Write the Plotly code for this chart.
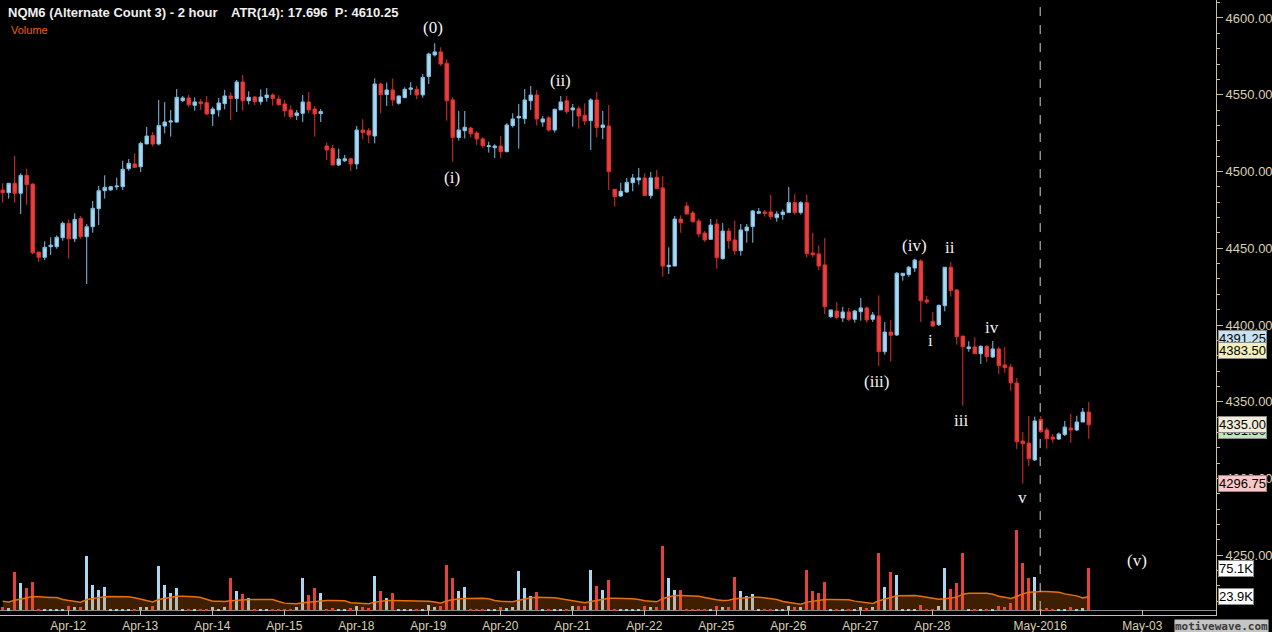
import plotly.graph_objects as go

# 2-hour bars (index = bar number, left to right)
opens = [4487.9, 4486.2, 4492.3, 4485.8, 4497.5, 4491.8, 4447.5, 4444.1, 4451.0, 4451.0,
         4456.9, 4466.2, 4456.2, 4469.5, 4457.5, 4464.0, 4475.8, 4487.5, 4488.0, 4490.0,
         4490.1, 4501.8, 4504.9, 4503.1, 4517.9, 4523.5, 4517.9, 4529.6, 4532.2, 4532.2,
         4546.1, 4547.9, 4543.1, 4545.3, 4544.8, 4537.5, 4540.1, 4544.2, 4549.2, 4547.5,
         4558.3, 4546.1, 4548.5, 4545.5, 4548.1, 4549.8, 4547.2, 4544.0, 4540.1, 4536.4,
         4537.9, 4545.3, 4540.7, 4537.7, 4516.6, 4514.9, 4504.2, 4507.0, 4508.3, 4504.9,
         4527.0, 4526.6, 4523.1, 4557.0, 4550.1, 4553.1, 4544.4, 4548.1, 4553.5, 4553.5,
         4549.9, 4561.8, 4575.9, 4577.9, 4570.5, 4546.6, 4522.1, 4526.6, 4528.3, 4525.1,
         4521.2, 4516.3, 4515.5, 4516.6, 4512.9, 4529.9, 4534.9, 4534.4, 4546.1, 4549.8,
         4532.2, 4534.9, 4527.0, 4540.1, 4546.1, 4540.1, 4540.9, 4536.6, 4533.1, 4546.6,
         4528.6, 4529.6, 4488.4, 4484.0, 4486.6, 4492.7, 4494.5, 4495.8, 4484.3, 4496.2,
         4489.3, 4438.0, 4438.4, 4469.0, 4477.5, 4473.0, 4467.7, 4459.9, 4455.8, 4465.8,
         4443.2, 4461.2, 4455.4, 4448.4, 4461.4, 4464.1, 4472.8, 4473.6, 4473.6, 4469.9,
         4471.9, 4473.2, 4479.7, 4473.2, 4479.7, 4446.9, 4446.3, 4439.1, 4405.4, 4409.1,
         4404.6, 4408.5, 4403.7, 4408.7, 4411.1, 4403.7, 4405.9, 4382.6, 4395.4, 4393.5,
         4432.2, 4432.8, 4437.1, 4441.7, 4416.3, 4402.4, 4400.2, 4412.6, 4437.6, 4422.8,
         4392.8, 4384.6, 4385.7, 4381.3, 4386.1, 4379.2, 4384.4, 4374.0, 4372.6, 4362.2,
         4324.4, 4323.1, 4312.1, 4338.5, 4331.6, 4327.0, 4325.7, 4328.6, 4332.9, 4331.6,
         4336.8, 4343.3]
highs = [4492.3, 4492.3, 4510.1, 4498.8, 4501.8, 4492.3, 4447.5, 4454.5, 4457.1, 4458.4,
         4467.3, 4468.8, 4472.7, 4471.0, 4465.8, 4480.8, 4490.5, 4497.5, 4490.5, 4496.0,
         4507.0, 4508.1, 4511.8, 4519.4, 4529.0, 4525.7, 4546.6, 4545.3, 4540.0, 4553.7,
         4549.2, 4549.8, 4548.3, 4547.2, 4549.2, 4542.2, 4547.9, 4553.1, 4551.4, 4559.6,
         4562.9, 4552.2, 4549.2, 4553.5, 4554.4, 4550.9, 4549.6, 4546.6, 4543.1, 4540.1,
         4549.8, 4551.8, 4542.7, 4540.7, 4518.8, 4517.3, 4514.9, 4510.8, 4509.0, 4529.6,
         4534.0, 4528.3, 4560.7, 4557.9, 4557.9, 4560.5, 4549.2, 4554.8, 4558.1, 4555.7,
         4563.5, 4577.4, 4583.5, 4580.9, 4573.1, 4548.3, 4539.4, 4539.4, 4529.2, 4526.2,
         4522.3, 4519.4, 4517.7, 4523.1, 4531.4, 4537.9, 4544.0, 4553.7, 4555.7, 4553.1,
         4536.1, 4536.1, 4540.9, 4549.2, 4549.2, 4544.0, 4542.7, 4544.4, 4547.7, 4551.8,
         4539.4, 4543.3, 4488.4, 4492.7, 4495.8, 4498.4, 4502.3, 4498.8, 4499.7, 4501.0,
         4497.1, 4450.6, 4471.0, 4471.4, 4480.1, 4474.5, 4469.3, 4461.2, 4469.0, 4469.0,
         4466.4, 4463.2, 4468.0, 4465.8, 4465.8, 4474.9, 4476.2, 4474.9, 4484.7, 4474.1,
         4475.3, 4489.9, 4485.3, 4480.6, 4484.9, 4460.1, 4451.9, 4456.7, 4409.8, 4415.0,
         4411.9, 4411.1, 4409.8, 4417.6, 4412.0, 4408.5, 4419.3, 4401.9, 4403.3, 4434.5,
         4433.7, 4438.4, 4443.2, 4442.8, 4418.9, 4408.5, 4413.3, 4437.6, 4441.0, 4423.2,
         4392.8, 4389.4, 4392.0, 4386.8, 4386.8, 4389.6, 4385.9, 4385.7, 4374.6, 4365.5,
         4330.3, 4340.7, 4340.3, 4340.7, 4333.1, 4329.0, 4329.9, 4337.5, 4342.2, 4340.9,
         4345.9, 4349.8]
lows = [4479.7, 4482.3, 4479.7, 4472.3, 4478.4, 4446.2, 4441.2, 4442.3, 4445.6, 4449.7,
        4454.9, 4443.2, 4454.0, 4456.2, 4426.7, 4460.1, 4465.1, 4482.3, 4487.5, 4488.0,
        4487.9, 4500.5, 4502.3, 4499.7, 4517.9, 4516.2, 4517.0, 4524.8, 4522.7, 4531.8,
        4545.3, 4542.2, 4539.6, 4540.1, 4536.8, 4529.6, 4535.7, 4540.5, 4533.5, 4538.8,
        4539.6, 4543.7, 4543.3, 4543.5, 4545.5, 4542.9, 4542.9, 4535.7, 4534.4, 4533.5,
        4532.2, 4537.9, 4522.7, 4532.2, 4507.5, 4504.2, 4503.6, 4506.2, 4500.3, 4501.4,
        4521.0, 4518.3, 4518.3, 4537.9, 4542.7, 4542.7, 4543.5, 4547.7, 4549.9, 4547.2,
        4548.1, 4557.0, 4574.8, 4568.7, 4533.1, 4506.4, 4520.1, 4521.4, 4522.3, 4517.3,
        4515.5, 4512.3, 4508.8, 4508.8, 4512.5, 4528.6, 4514.9, 4530.9, 4540.1, 4529.9,
        4529.2, 4525.9, 4525.3, 4540.1, 4537.5, 4529.2, 4527.9, 4530.3, 4514.0, 4522.3,
        4521.0, 4487.9, 4477.1, 4483.6, 4486.2, 4487.1, 4491.4, 4484.3, 4482.3, 4488.4,
        4431.5, 4433.2, 4438.4, 4460.1, 4472.3, 4466.7, 4457.1, 4454.1, 4455.4, 4436.7,
        4442.6, 4449.7, 4445.8, 4445.2, 4453.6, 4453.6, 4472.3, 4470.6, 4468.8, 4467.3,
        4468.6, 4473.2, 4471.9, 4471.9, 4444.1, 4444.1, 4435.8, 4407.2, 4404.6, 4403.7,
        4402.0, 4402.4, 4401.5, 4402.8, 4401.5, 4402.0, 4373.3, 4380.7, 4376.3, 4392.8,
        4428.9, 4431.5, 4434.5, 4402.0, 4413.7, 4398.9, 4399.3, 4408.9, 4418.5, 4387.2,
        4347.5, 4382.6, 4381.3, 4374.6, 4375.9, 4378.5, 4368.1, 4369.0, 4357.2, 4319.2,
        4296.75, 4308.1, 4311.4, 4329.9, 4319.4, 4323.3, 4325.1, 4327.7, 4323.3, 4330.9,
        4336.8, 4325.9]
closes = [4486.2, 4492.3, 4485.8, 4497.5, 4491.4, 4447.1, 4444.1, 4450.6, 4452.0, 4457.1,
          4466.2, 4456.2, 4468.8, 4457.5, 4464.0, 4476.0, 4487.5, 4489.7, 4490.1, 4490.5,
          4501.4, 4505.3, 4502.7, 4518.3, 4523.1, 4517.9, 4530.0, 4532.2, 4532.9, 4548.3,
          4547.9, 4543.5, 4545.3, 4544.2, 4537.5, 4540.7, 4544.6, 4549.2, 4547.5, 4558.3,
          4546.1, 4548.3, 4545.5, 4548.5, 4549.8, 4547.5, 4543.5, 4539.6, 4535.7, 4538.1,
          4545.3, 4540.1, 4537.5, 4539.0, 4514.0, 4504.2, 4508.1, 4508.3, 4504.9, 4527.0,
          4525.3, 4523.8, 4557.0, 4550.1, 4553.1, 4546.6, 4549.2, 4553.5, 4554.4, 4549.9,
          4561.3, 4576.5, 4577.9, 4570.0, 4546.1, 4522.1, 4527.0, 4528.8, 4524.6, 4521.2,
          4516.8, 4516.7, 4516.6, 4512.9, 4530.3, 4534.2, 4535.9, 4546.6, 4549.8, 4534.2,
          4534.2, 4527.0, 4540.5, 4545.3, 4539.0, 4541.4, 4536.1, 4532.9, 4546.6, 4528.6,
          4530.3, 4499.9, 4483.6, 4487.1, 4492.9, 4495.8, 4495.8, 4484.3, 4495.8, 4488.8,
          4438.4, 4438.9, 4469.0, 4466.7, 4472.3, 4467.3, 4459.3, 4455.4, 4465.1, 4443.9,
          4461.2, 4454.9, 4448.4, 4461.9, 4463.8, 4474.3, 4473.8, 4472.7, 4470.6, 4472.3,
          4473.6, 4479.7, 4473.2, 4479.7, 4446.5, 4445.8, 4438.4, 4411.9, 4409.8, 4405.0,
          4408.5, 4403.7, 4409.1, 4411.1, 4403.3, 4406.5, 4382.6, 4395.4, 4393.3, 4433.7,
          4433.7, 4437.6, 4442.3, 4415.8, 4415.0, 4399.3, 4412.8, 4437.6, 4422.4, 4392.4,
          4385.9, 4385.7, 4381.3, 4386.1, 4379.4, 4384.4, 4373.5, 4372.2, 4362.4, 4324.0,
          4322.7, 4312.9, 4337.5, 4330.5, 4326.0, 4325.7, 4329.0, 4333.5, 4331.6, 4336.8,
          4343.3, 4335.0]

# volume in thousands and its moving average line
volume_k = [4.8, 3.6, 68, 49, 39, 50, 0.8, 1.8, 1.8, 0.8,
            1.8, 7, 5, 5, 97, 45, 36, 41, 0.8, 0.8,
            1.8, 1.8, 1.8, 5, 5, 7, 79, 45, 30, 39,
            0.8, 0.8, 0.8, 0.8, 1.8, 5, 1.8, 5, 57, 34,
            29, 21, 0.8, 0.8, 0.8, 0.8, 0.8, 1.8, 1.8, 5,
            57, 27, 39, 30, 1.8, 3.5, 1.8, 0.8, 3.5, 7,
            5, 3.5, 61, 34, 21, 30, 0.8, 0.8, 1.8, 0.8,
            1.8, 9.5, 5, 7, 82, 57, 34, 41, 0.8, 0.8,
            0.8, 1.2, 1.2, 5, 3.5, 5, 70, 39, 26, 32,
            0.8, 0.8, 1.2, 1.2, 1.2, 7, 7, 7, 72, 43,
            36, 55, 0.8, 1.2, 1.2, 1.2, 1.2, 7, 5, 5.5,
            116, 57, 36, 36, 0.8, 1.2, 0.8, 0.8, 0.8, 7,
            5, 5.5, 59, 34, 26, 29, 0.8, 0.8, 1.2, 0.8,
            0.8, 7, 5, 6, 72, 34, 30, 50, 1.2, 1.2,
            1.2, 0.8, 1.2, 5, 3.5, 6, 102, 41, 68, 64,
            0.8, 0.8, 1.2, 9, 0.8, 1.2, 7, 75, 38, 48,
            102, 0.8, 1.2, 1.2, 0.8, 1.2, 7, 5, 12, 145,
            84, 57, 59, 1.2, 3.5, 0.8, 0.8, 1.2, 5, 1.2,
            3.5, 75.1]
volume_ma_k = [16, 14.7, 17.9, 20.3, 22, 24.4, 23.9, 22.7, 22.7, 22.7,
               19.1, 17.3, 16, 14.3, 19.1, 20.9, 22.7, 23.9, 24.4, 24.4,
               24.4, 23.9, 22, 19.7, 17.9, 14.7, 19.1, 21.5, 23.3, 25,
               25, 25, 23.9, 22.7, 19.1, 16, 16, 15.5, 16.7, 17.9,
               19.1, 19.1, 19.1, 19.1, 19.1, 19.1, 15.5, 12.5, 11.9, 11.3,
               13.1, 14.3, 16, 17.3, 17.3, 17.3, 17.3, 16.7, 13.1, 12.5,
               11.9, 11.3, 14.3, 16, 17.3, 17.3, 17.3, 17.3, 17.3, 17.3,
               17.3, 16, 14.7, 12.5, 16.7, 19, 20.3, 21, 21.5, 21.5,
               21.5, 20.3, 17.3, 16.1, 14.9, 14.9, 17.9, 20.3, 22, 23.3,
               23.3, 23.3, 22, 20.3, 18.5, 16.1, 14.3, 13.1, 15.5, 17.9,
               20.3, 21.5, 21.5, 21.5, 21, 20.3, 19, 16.7, 16.1, 14.9,
               21, 23.9, 26.2, 26.2, 26.2, 26.2, 25, 22.7, 20.3, 18.5,
               17.3, 17.9, 20.3, 21.5, 22.7, 23.3, 23.3, 22, 20.3, 19,
               15.5, 14.3, 12.5, 10.7, 14.3, 16.1, 17.9, 19, 19, 19,
               19, 18.5, 16.1, 14.9, 13.7, 11.9, 16.7, 20.3, 22.7, 25.6,
               26.2, 26.2, 26.2, 25, 23.3, 21.5, 19.7, 20.3, 21.5, 23.3,
               28.6, 30.4, 30.4, 30.4, 30.4, 28.6, 25, 23.3, 21, 24.4,
               29.2, 32.2, 33.4, 33.4, 33.4, 33.4, 32.2, 29.2, 27.4, 25.6,
               22, 23.9]

# date ticks (bar positions) and labels
tick_pos = [10.93, 22.93, 34.93, 46.93, 58.93, 70.93, 82.93, 94.93, 106.93,
            118.93, 130.93, 142.93, 154.93, 172.9, 189.93]
tick_labels = ["Apr-12", "Apr-13", "Apr-14", "Apr-15", "Apr-18", "Apr-19", "Apr-20",
               "Apr-21", "Apr-22", "Apr-25", "Apr-26", "Apr-27", "Apr-28", "May-2016", "May-03"]

# Elliott wave labels: (text, bar position, price)
wave_labels = ["(0)", "(i)", "(ii)", "(iii)", "(iv)", "(v)", "i", "ii", "iii", "iv", "v"]
wave_x = [71.7, 74.9, 92.9, 145.7, 151.9, 189.1, 154.7, 157.9, 159.7, 164.9, 169.9]
wave_y = [4593.5, 4496.4, 4559.0, 4363.5, 4452.1, 4246.9, 4389.6, 4450.2, 4337.5, 4398.7, 4287.9]

# right-hand price / volume markers
marker_prices = [4331.5, 4391.25, 4383.50, 4335.00, 4296.75]
marker_texts = ["4331.50", "4391.25", "4383.50", "4335.00", "4296.75"]
marker_colors = ["#b8e8b8", "#c8e2f4", "#f2f0b8", "#f0ecd8", "#f8c8c8"]
vol_marker_values = [75.1, 23.9]
vol_marker_texts = ["75.1K", "23.9K"]

BLUE = "#a9d9f2"
RED = "#e8403f"
TAN = "#c8c0a0"
TICK_TEXT = "#d8d0b4"

if __name__ == "__main__":
    idx = list(range(len(opens)))
    vol_colors = [BLUE if c >= o else RED for o, c in zip(opens, closes)]

    fig = go.Figure()
    fig.add_trace(
        go.Candlestick(
            x=idx, open=opens, high=highs, low=lows, close=closes,
            increasing=dict(fillcolor=BLUE, line=dict(color="#7fc0e6", width=1)),
            decreasing=dict(fillcolor=RED, line=dict(color="#e4302f", width=1)),
            whiskerwidth=0,
            showlegend=False,
            name="NQM6",
        )
    )
    fig.add_trace(
        go.Bar(
            x=idx, y=volume_k, yaxis="y2",
            marker=dict(color=vol_colors, line=dict(width=0)),
            width=0.55, showlegend=False, name="Volume",
        )
    )
    fig.add_trace(
        go.Scatter(
            x=idx, y=volume_ma_k, yaxis="y2", mode="lines",
            line=dict(color="#e8700a", width=1.5),
            fill="tozeroy", fillcolor="rgba(230,110,0,0.28)",
            showlegend=False, name="Volume MA",
        )
    )

    annotations = []
    for t, x, y in zip(wave_labels, wave_x, wave_y):
        annotations.append(dict(
            x=x, y=y, xref="x", yref="y", text=t, showarrow=False,
            font=dict(family="Liberation Serif", size=17, color="#f2f2f2"),
        ))
    for p, t, c in zip(marker_prices, marker_texts, marker_colors):
        annotations.append(dict(
            x=1, y=p, xref="paper", yref="y", text=t, showarrow=False,
            xanchor="left", xshift=2, bgcolor=c, bordercolor="#8a8a8a", borderwidth=1,
            borderpad=0, font=dict(family="Liberation Sans", size=13, color="#000000"),
        ))
    for v, t in zip(vol_marker_values, vol_marker_texts):
        annotations.append(dict(
            x=1, y=v, xref="paper", yref="y2", text=t, showarrow=False,
            xanchor="left", xshift=2, bgcolor="#ffffff", bordercolor="#8a8a8a", borderwidth=1,
            borderpad=0, font=dict(family="Liberation Sans", size=13, color="#000000"),
        ))
    annotations += [
        dict(x=0, y=1, xref="paper", yref="paper", xanchor="left", yanchor="top",
             xshift=6, yshift=-3, showarrow=False,
             text="<b>NQM6 (Alternate Count 3) - 2 hour</b>",
             font=dict(family="Liberation Sans", size=13, color="#f0f0f0")),
        dict(x=0, y=1, xref="paper", yref="paper", xanchor="left", yanchor="top",
             xshift=229, yshift=-3, showarrow=False,
             text="<b>ATR(14): 17.696  P: 4610.25</b>",
             font=dict(family="Liberation Sans", size=13, color="#f0f0f0")),
        dict(x=0, y=1, xref="paper", yref="paper", xanchor="left", yanchor="top",
             xshift=9, yshift=-22, showarrow=False, text="Volume",
             font=dict(family="Liberation Sans", size=11, color="#e8640c")),
        dict(x=1, y=0, xref="paper", yref="paper", xanchor="right", yanchor="top",
             xshift=53, yshift=-4, showarrow=False, text="<b>motivewave.com</b>",
             bgcolor="#c4c4c4", borderpad=0,
             font=dict(family="DejaVu Sans Mono", size=11, color="#3c3c3c")),
    ]

    fig.update_layout(
        width=1272, height=632,
        margin=dict(l=0, r=56, t=0, b=17),
        paper_bgcolor="#000000", plot_bgcolor="#000000",
        boxgap=0.18,
        bargap=0,
        showlegend=False,
        annotations=annotations,
        shapes=[dict(type="line", xref="x", yref="paper", x0=172.9, x1=172.9, y0=0.008, y1=1,
                     line=dict(color="#d0d0d0", width=1, dash="dash"))],
        xaxis=dict(
            range=[-0.45, 202.2], rangeslider=dict(visible=False),
            tickvals=tick_pos, ticktext=tick_labels,
            showgrid=False, zeroline=False, showline=True, linecolor=TAN, linewidth=1,
            ticks="inside", ticklen=5, tickcolor=TAN,
            tickfont=dict(family="Liberation Sans", size=12, color=TICK_TEXT),
        ),
        yaxis=dict(
            side="right", range=[4211.1, 4611.7], dtick=50, tickformat=".2f",
            showgrid=False, zeroline=False, showline=True, linecolor=TAN, linewidth=1,
            ticks="outside", ticklen=6, tickcolor=TAN,
            minor=dict(dtick=10, ticks="outside", ticklen=3, tickcolor=TAN),
            tickfont=dict(family="Liberation Sans", size=13, color=TICK_TEXT),
        ),
        yaxis2=dict(
            overlaying="y", range=[-8.9, 1100], showticklabels=False, showgrid=False,
            zeroline=True, zerolinecolor="#8a8a8a", zerolinewidth=1, ticks="",
        ),
    )

    # the page body has a default margin; drop it so the figure sits at the corner
    fig.write_html(
        "out.html",
        config={"displayModeBar": False},
        post_script="document.body.style.margin='0';document.body.style.background='#000';",
    )
